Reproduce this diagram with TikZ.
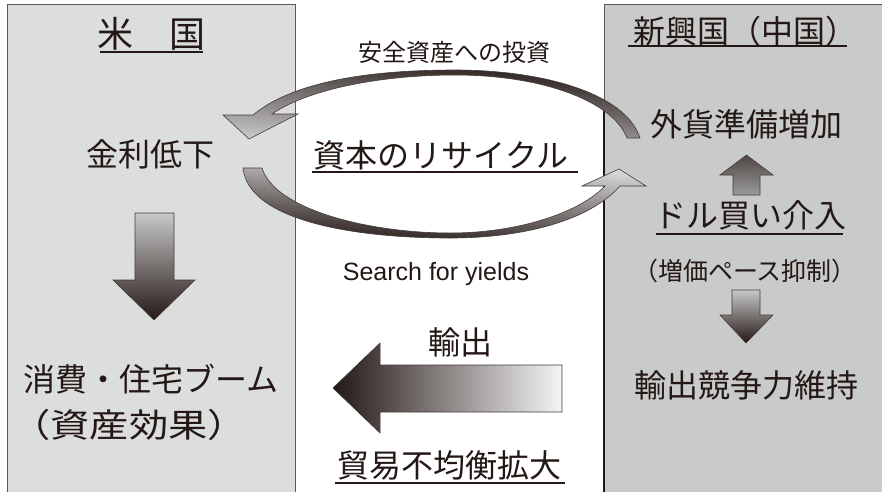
\documentclass[tikz,border=0pt]{standalone}
\usepackage{fontspec}
\setmainfont{Noto Sans CJK JP}
\newfontfamily\latinfont{Liberation Sans}
\definecolor{ink}{HTML}{231815}
\definecolor{lpanel}{HTML}{DCDDDD}
\definecolor{rpanel}{HTML}{C9CACA}
\definecolor{edgegray}{HTML}{595757}
\definecolor{lightg}{HTML}{C8C8C8}
\definecolor{midg}{HTML}{9A9A9A}
\tikzset{
  txt/.style={text=ink, inner sep=0pt, font=\fontsize{32}{38}\selectfont},
  smalltxt/.style={text=ink, inner sep=0pt, font=\fontsize{24}{28}\selectfont},
  uline/.style={draw=ink, line width=1.8pt},
  arrowline/.style={draw=ink!85, line width=0.6pt, line join=miter},
  panelline/.style={draw=edgegray, line width=1pt},
}
\begin{document}
\begin{tikzpicture}[x=1pt,y=-1pt]
\useasboundingbox (0,0) rectangle (882,491);
\fill[white] (0,0) rectangle (882,491);
% panels
\fill[lpanel] (7,4) rectangle (295,495);
\draw[panelline] (7,495) -- (7,4) -- (295,4) -- (295,495);
\fill[rpanel] (604,4) rectangle (890,495);
\draw[panelline] (604,495) -- (604,4) -- (890,4);
\draw[draw=ink, line width=1.3pt] (604,100) -- (604,495);

% texts
\node[txt, font=\fontsize{36}{40}\selectfont] (us) at (151.5,34) {米　国};
\node[txt] (rate) at (150,154) {金利低下};
\node[txt] (boom) at (151,379) {消費・住宅ブーム};
\node[txt, font=\fontsize{33}{38}\selectfont] (asset) at (129,425) {\scalebox{1.19}[1]{（資産効果）}};
\node[txt] (em) at (745,31) {新興国（中国）};
\node[txt] (fx) at (746,124) {外貨準備増加};
\node[txt] (usd) at (750,215) {ドル買い介入};
\node[txt, font=\fontsize{25}{30}\selectfont] (pace) at (745,271) {（増価ペース抑制）};
\node[txt] (comp) at (746,385) {輸出競争力維持};
\node[smalltxt] (safe) at (454,52) {安全資産への投資};
\node[txt] (recyc) at (441,155) {資本のリサイクル};
\node[txt, font=\latinfont\fontsize{25}{30}\selectfont, anchor=base] (search) at (436,280) {Search for yields};
\node[txt] (exp) at (460,342) {輸出};
\node[txt] (imb) at (449,465) {貿易不均衡拡大};

% underlines
\draw[uline] (100,52) -- (203,52);
\draw[uline] (628,46) -- (847,46);
\draw[uline] (656,234) -- (843,234);
\draw[uline] (312,172) -- (578,172);
\draw[uline] (335,483) -- (565,483);

% upper curved arrow (to the US)
\shadedraw[arrowline, top color=ink, bottom color=lightg, shading angle=-5]
  (223,115) -- (249,139) -- (298,114) -- (272,114)
  .. controls (310,88) and (385,75) .. (455,75)
  .. controls (540,75) and (612,100) .. (627,138)
  -- (640,138)
  .. controls (625,92) and (540,70) .. (455,70)
  .. controls (375,70) and (295,80) .. (253,115) -- cycle;

% lower curved arrow (to emerging)
\shadedraw[arrowline, bottom color=ink, top color=lightg!60!white, shading angle=-4]
  (243,168) -- (262,168)
  .. controls (275,210) and (370,233) .. (450,233)
  .. controls (520,233) and (580,212) .. (605,186)
  -- (582,186) -- (619,169) -- (646,186) -- (620,186)
  .. controls (590,220) and (525,238) .. (450,238)
  .. controls (345,238) and (248,218) .. (243,168) -- cycle;

% left down arrow
\shadedraw[arrowline, top color=lightg, bottom color=ink]
  (135,213) -- (174,213) -- (174,280) -- (195,280) -- (154,320)
  -- (113,280) -- (135,280) -- cycle;

% right up arrow
\shadedraw[arrowline, top color=ink!80, bottom color=midg]
  (733,195) -- (760,195) -- (760,175) -- (773,175) -- (746.5,155)
  -- (720,175) -- (733,175) -- cycle;

% right down arrow
\shadedraw[arrowline, top color=lightg, bottom color=ink]
  (732,290) -- (760,290) -- (760,315) -- (773,315) -- (746,343)
  -- (720,315) -- (732,315) -- cycle;

% export arrow
\shadedraw[arrowline, left color=ink, right color=white!92!gray]
  (562,365) -- (380,365) -- (380,343) -- (333,388) -- (380,433)
  -- (380,412) -- (562,412) -- cycle;
\end{tikzpicture}
\end{document}
